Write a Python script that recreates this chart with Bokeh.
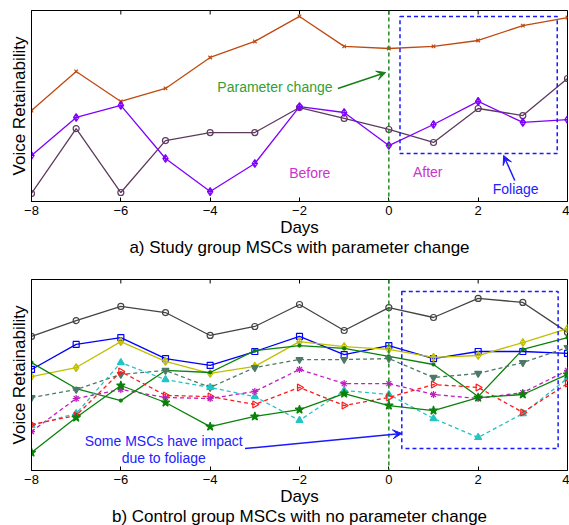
import math
from bokeh.plotting import figure
from bokeh.models import (Range1d, LinearAxis, FixedTicker, Span, BoxAnnotation,
                          Arrow, VeeHead, Label)
from bokeh.layouts import column
from bokeh.embed import file_html
from bokeh.resources import INLINE

# ---------------- data ----------------
days = [-8, -7, -6, -5, -4, -3, -2, -1, 0, 1, 2, 3, 4]
x_ticks = [-8, -6, -4, -2, 0, 2, 4]
x_tick_labels = ["\u22128", "\u22126", "\u22124", "\u22122", "0", "2", "4"]

# a) study group
study_orange = [0.476, 0.681, 0.524, 0.592, 0.754, 0.838, 0.969, 0.812, 0.801, 0.812, 0.843, 0.921, 0.963]
study_purple = [0.241, 0.440, 0.503, 0.225, 0.052, 0.199, 0.497, 0.466, 0.293, 0.403, 0.524, 0.414, 0.429]
study_mauve = [0.042, 0.382, 0.047, 0.319, 0.361, 0.361, 0.492, 0.435, 0.377, 0.309, 0.487, 0.450, 0.644]

# b) control group
ctrl_gray = [0.702, 0.785, 0.859, 0.827, 0.707, 0.754, 0.869, 0.733, 0.853, 0.801, 0.901, 0.880, 0.723]
ctrl_blue = [0.529, 0.660, 0.696, 0.586, 0.550, 0.623, 0.702, 0.607, 0.654, 0.586, 0.623, 0.623, 0.613]
ctrl_yellow = [0.492, 0.539, 0.675, 0.571, 0.508, 0.545, 0.675, 0.649, 0.634, 0.592, 0.602, 0.670, 0.743]
ctrl_green = [0.565, 0.429, 0.366, 0.524, 0.513, 0.628, 0.654, 0.639, 0.597, 0.555, 0.387, 0.634, 0.696]
ctrl_slate = [0.382, 0.424, 0.503, 0.524, 0.435, 0.539, 0.581, 0.581, 0.586, 0.487, 0.508, 0.565, 0.644]
ctrl_cyan = [0.236, 0.298, 0.565, 0.476, 0.435, 0.387, 0.262, 0.419, 0.398, 0.272, 0.173, 0.298, 0.482]
ctrl_red = [0.241, 0.288, 0.518, 0.393, 0.387, 0.346, 0.435, 0.340, 0.382, 0.450, 0.435, 0.304, 0.455]
ctrl_magenta = [0.204, 0.377, 0.424, 0.382, 0.377, 0.414, 0.529, 0.455, 0.455, 0.398, 0.377, 0.408, 0.524]
ctrl_star = [0.094, 0.277, 0.445, 0.356, 0.230, 0.283, 0.319, 0.403, 0.340, 0.314, 0.382, 0.398, 0.503]

FONT = "Liberation Sans"
X_MIN, X_MAX = -8, 4
Y_MIN, Y_MAX = 0, 1


def make_fig(border_top, border_bottom, caption):
    p = figure(frame_width=536, frame_height=191,
               x_range=Range1d(X_MIN, X_MAX), y_range=Range1d(Y_MIN, Y_MAX),
               output_backend="svg", toolbar_location=None,
               x_axis_location=None, y_axis_location=None,
               min_border_left=31, min_border_right=2,
               min_border_top=border_top, min_border_bottom=border_bottom)
    p.xgrid.visible = False
    p.ygrid.visible = False
    p.outline_line_color = "black"
    p.outline_line_width = 1
    p.outline_line_alpha = 1
    p.background_fill_color = "white"
    p.border_fill_color = "white"

    # "Days" axis label with the panel caption on a second line
    xb = LinearAxis(ticker=FixedTicker(ticks=x_ticks),
                    major_label_overrides=dict(zip(x_ticks, x_tick_labels)),
                    axis_label="Days\n" + caption,
                    major_tick_in=4, major_tick_out=0,
                    minor_tick_in=0, minor_tick_out=0,
                    major_label_standoff=4, axis_label_standoff=0,
                    major_label_text_font=FONT, major_label_text_font_size="13px",
                    major_label_text_color="black",
                    axis_label_text_font=FONT, axis_label_text_font_size="17px",
                    axis_label_text_font_style="normal", axis_label_text_color="black",
                    axis_label_text_line_height=1.06,
                    axis_line_color="black", major_tick_line_color="black")
    p.add_layout(xb, "below")
    yl = LinearAxis(ticker=FixedTicker(ticks=[]),
                    axis_label="Voice Retainability",
                    major_tick_in=0, major_tick_out=0, minor_tick_in=0, minor_tick_out=0,
                    major_label_standoff=0,
                    axis_label_standoff=3,
                    axis_label_text_font=FONT, axis_label_text_font_size="17px",
                    axis_label_text_font_style="normal", axis_label_text_color="black",
                    axis_line_color="black")
    p.add_layout(yl, "left")
    # inward tick marks on the top border (half of each dash is clipped by the frame)
    p.scatter(x_ticks, [Y_MAX] * len(x_ticks), marker="dash", angle=math.pi / 2,
              size=8, line_color="black", line_width=1)
    return p


def series(p, ys, color, marker, dash="solid", size=6, fill=None, angle=0.0):
    p.line(days, ys, line_color=color, line_width=1.3, line_dash=dash)
    p.scatter(days, ys, marker=marker, size=size, line_color=color,
              fill_color=fill, line_width=1.2, angle=angle)


# ---------------- figure a ----------------
p1 = make_fig(10, 58, "a) Study group MSCs with parameter change")
p1.add_layout(Span(location=0, dimension="height", line_color="#1E8C1E",
                   line_dash="4 3", line_width=1.5))
p1.add_layout(BoxAnnotation(left=0.25, right=3.77, bottom=0.251, top=0.969,
                            fill_alpha=0, line_color="#1A1AFF", line_alpha=1,
                            line_dash="4 3", line_width=1.5))
series(p1, study_orange, "#BF4A0F", "x", size=5)
series(p1, study_mauve, "#5E3A5E", "circle", size=6)
series(p1, study_purple, "#7F00FF", "diamond_cross", size=8)

p1.add_layout(Label(x=-2.55, y=0.597, text="Parameter change", text_align="center",
                    text_baseline="middle", text_font=FONT, text_font_size="14px",
                    text_color="#33A033"))
p1.add_layout(Arrow(end=VeeHead(size=9, line_color="#168016", fill_color="#168016"),
                    x_start=-1.14, y_start=0.592, x_end=-0.07, y_end=0.675,
                    line_color="#168016", line_width=1.5))
p1.add_layout(Label(x=-1.77, y=0.147, text="Before", text_align="center",
                    text_baseline="middle", text_font=FONT, text_font_size="14px",
                    text_color="#CC33CC"))
p1.add_layout(Label(x=0.87, y=0.152, text="After", text_align="center",
                    text_baseline="middle", text_font=FONT, text_font_size="14px",
                    text_color="#CC33CC"))
p1.add_layout(Label(x=2.84, y=0.063, text="Foliage", text_align="center",
                    text_baseline="middle", text_font=FONT, text_font_size="14px",
                    text_color="#2222FF"))
p1.add_layout(Arrow(end=VeeHead(size=9, line_color="#1A1AFF", fill_color="#1A1AFF"),
                    x_start=2.82, y_start=0.110, x_end=2.57, y_end=0.241,
                    line_color="#1A1AFF", line_width=1.5))

# ---------------- figure b ----------------
p2 = make_fig(20, 55, "b) Control group MSCs with no parameter change")
p2.add_layout(Span(location=0, dimension="height", line_color="#1E8C1E",
                   line_dash="4 3", line_width=1.5))
p2.add_layout(BoxAnnotation(left=0.29, right=3.79, bottom=0.115, top=0.937,
                            fill_alpha=0, line_color="#1A1AFF", line_alpha=1,
                            line_dash="4 3", line_width=1.5))
series(p2, ctrl_gray, "#444444", "circle", size=6)
series(p2, ctrl_blue, "#0000FF", "square", size=6)
series(p2, ctrl_yellow, "#C0C000", "diamond_cross", size=8)
series(p2, ctrl_green, "#0A820A", "circle", size=3, fill="#0A820A")
series(p2, ctrl_slate, "#4C7A66", "inverted_triangle", dash="4 3", size=7, fill="#4C7A66")
series(p2, ctrl_cyan, "#22C4C4", "triangle", dash="4 3", size=7, fill="#22C4C4")
series(p2, ctrl_red, "#FF1A1A", "triangle", dash="4 3", size=7, angle=-1.5708)
series(p2, ctrl_magenta, "#C020C0", "asterisk", dash="4 3", size=7)
series(p2, ctrl_star, "#0A820A", "star", size=9, fill="#0A820A")

p2.add_layout(Label(x=-5.04, y=0.152, text="Some MSCs have impact", text_align="center",
                    text_baseline="middle", text_font=FONT, text_font_size="14px",
                    text_color="#2222FF"))
p2.add_layout(Label(x=-5.04, y=0.068, text="due to foliage", text_align="center",
                    text_baseline="middle", text_font=FONT, text_font_size="14px",
                    text_color="#2222FF"))
p2.add_layout(Arrow(end=VeeHead(size=9, line_color="#1A1AFF", fill_color="#1A1AFF"),
                    x_start=-3.22, y_start=0.115, x_end=0.29, y_end=0.194,
                    line_color="#1A1AFF", line_width=1.5))

layout = column(p1, p2, spacing=0)
html = file_html(layout, INLINE)
html = html.replace("</head>", "<style>html,body{overflow:hidden;}</style></head>", 1)
open("out.html", "w").write(html)
